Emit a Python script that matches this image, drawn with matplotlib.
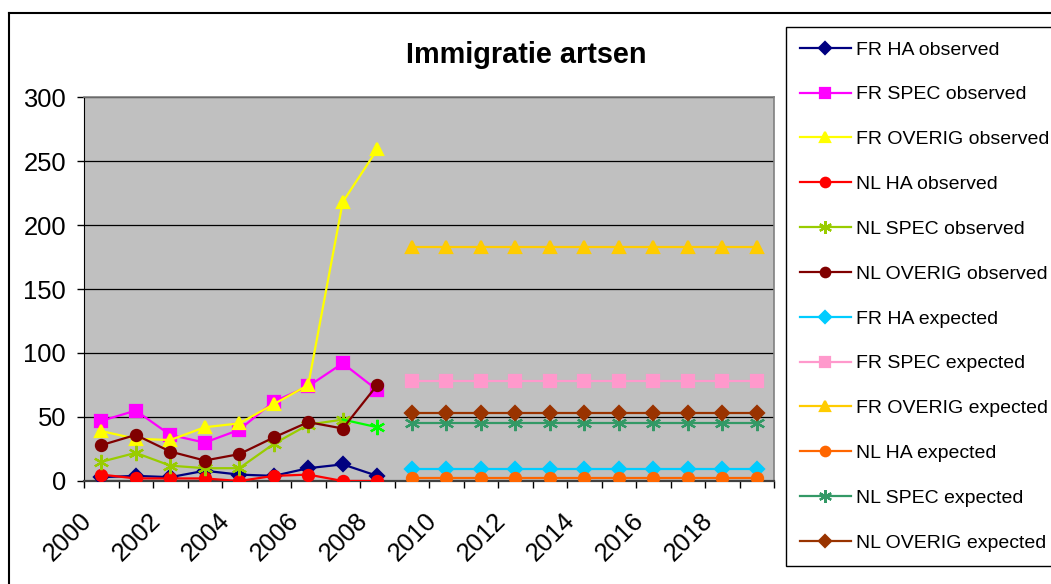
import matplotlib
matplotlib.use('Agg')
import matplotlib.pyplot as plt
from matplotlib.lines import Line2D
from matplotlib.transforms import Affine2D
import numpy as np

plt.rcParams['font.family'] = ['Liberation Sans', 'DejaVu Sans']

years = list(range(2000, 2020))
year_labels = ['2000', '2002', '2004', '2006', '2008', '2010', '2012', '2014', '2016', '2018']

# observed 2000-2008
fr_ha_obs = [3, 4, 3, 8, 5, 4, 10, 13, 4]
fr_spec_obs = [47, 55, 36, 30, 40, 62, 74, 92, 71]
fr_overig_obs = [39, 33, 32, 42, 45, 60, 75, 218, 259]
nl_ha_obs = [5, 2, 2, 2, 0, 4, 5, 0, 0]
nl_spec_obs = [15, 22, 12, 10, 10, 29, 44, 48, 42]
nl_overig_obs = [28, 36, 23, 16, 21, 34, 46, 41, 75]

# expected 2009-2019
fr_ha_exp = [9, 9, 9, 9, 9, 9, 9, 9, 9, 9, 9]
fr_spec_exp = [78, 78, 78, 78, 78, 78, 78, 78, 78, 78, 78]
fr_overig_exp = [183, 183, 183, 183, 183, 183, 183, 183, 183, 183, 183]
nl_ha_exp = [2, 2, 2, 2, 2, 2, 2, 2, 2, 2, 2]
nl_spec_exp = [45, 45, 45, 45, 45, 45, 45, 45, 45, 45, 45]
nl_overig_exp = [53, 53, 53, 53, 53, 53, 53, 53, 53, 53, 53]

W, H = 1051, 584
fig = plt.figure(figsize=(W / 100, H / 100), dpi=100)
fig.patch.set_facecolor('white')

ax = fig.add_axes([84 / W, 1 - 481 / H, (774 - 84) / W, (481 - 97) / H])
ax.set_facecolor('#C0C0C0')

x_obs = np.arange(len(fr_ha_obs))
x_exp = np.arange(len(fr_ha_obs), len(years))

asterisk = (6, 2, 0)
series = [
    ('FR HA observed', x_obs, fr_ha_obs, '#000080', 'D', 7),
    ('FR SPEC observed', x_obs, fr_spec_obs, '#FF00FF', 's', 8),
    ('FR OVERIG observed', x_obs, fr_overig_obs, '#FFFF00', '^', 9),
    ('NL HA observed', x_obs, nl_ha_obs, '#FF0000', 'o', 8),
    ('NL SPEC observed', x_obs, nl_spec_obs, '#99CC00', asterisk, 11),
    ('NL OVERIG observed', x_obs, nl_overig_obs, '#800000', 'o', 8),
    ('FR HA expected', x_exp, fr_ha_exp, '#00CCFF', 'D', 7),
    ('FR SPEC expected', x_exp, fr_spec_exp, '#FF99CC', 's', 8),
    ('FR OVERIG expected', x_exp, fr_overig_exp, '#FFCC00', '^', 9),
    ('NL HA expected', x_exp, nl_ha_exp, '#FF6600', 'o', 8),
    ('NL SPEC expected', x_exp, nl_spec_exp, '#339966', asterisk, 11),
    ('NL OVERIG expected', x_exp, nl_overig_exp, '#993300', 'D', 7),
]

handles = []
for label, xs, ys, color, marker, ms in series:
    if label == 'NL SPEC observed':
        # last observed segment is drawn in bright green
        ax.plot(xs[:-1], ys[:-1], color=color, lw=1.6, marker=marker,
                ms=ms, mec=color, mfc=color, mew=1.6, zorder=3)
        ax.plot(xs[-2:], ys[-2:], color='#00FF00', lw=1.6, marker=marker,
                ms=ms, mec='#00FF00', mew=1.6, markevery=[1], zorder=3)
    else:
        ax.plot(xs, ys, color=color, lw=1.6, marker=marker, ms=ms,
                mec=color, mfc=color, mew=1.6, zorder=3)
    handles.append(Line2D([], [], color=color, lw=1.6, marker=marker,
                          ms=ms * 0.85, mec=color, mfc=color, mew=1.6,
                          label=label))

ax.set_xlim(-0.5, len(years) - 0.5)
ax.set_ylim(0, 300)
ax.set_yticks(np.arange(0, 301, 50))
ax.yaxis.grid(True, color='black', lw=0.9)
ax.set_axisbelow(True)

ax.set_xticks(np.arange(0, len(years), 2))
ax.set_xticklabels(year_labels, rotation=45, ha='right', va='center',
                   rotation_mode='anchor')
ax.set_xticks(np.arange(-0.5, len(years)), minor=True)
ax.tick_params(axis='x', which='major', length=0, pad=32, labelsize=18.4)
ax.tick_params(axis='x', which='minor', length=5, width=1, direction='out')
ax.tick_params(axis='y', length=5, width=1, direction='out', pad=8,
               labelsize=18.4)
# nudge the year labels a little left and up
shift = Affine2D().translate(-13, 9)
for lbl in ax.get_xticklabels():
    lbl.set_transform(lbl.get_transform() + shift)

for side in ('top', 'right'):
    ax.spines[side].set_color('#808080')
    ax.spines[side].set_linewidth(1.2)
ax.spines['left'].set_color('black')
ax.spines['bottom'].set_color('#404040')
ax.spines['bottom'].set_linewidth(1.6)

fig.text(526 / W, 1 - 63 / H, 'Immigratie artsen', ha='center', va='baseline',
         fontsize=20.8, fontweight='bold')

leg = fig.legend(handles=handles, loc='upper left',
                 bbox_to_anchor=(786 / W, 1 - 27 / H), fontsize=14,
                 frameon=True, fancybox=False, framealpha=1,
                 edgecolor='black', handlelength=2.6, handletextpad=0.3,
                 labelspacing=1.40, borderpad=0.72, borderaxespad=0)
leg.get_frame().set_linewidth(1.0)

# outer chart border
fig.add_artist(Line2D([9 / W, 1], [1 - 13 / H, 1 - 13 / H], color='black',
                      lw=1.5, transform=fig.transFigure))
fig.add_artist(Line2D([9 / W, 9 / W], [0, 1 - 13 / H], color='black',
                      lw=1.5, transform=fig.transFigure))

fig.savefig('out.png', dpi=100)
